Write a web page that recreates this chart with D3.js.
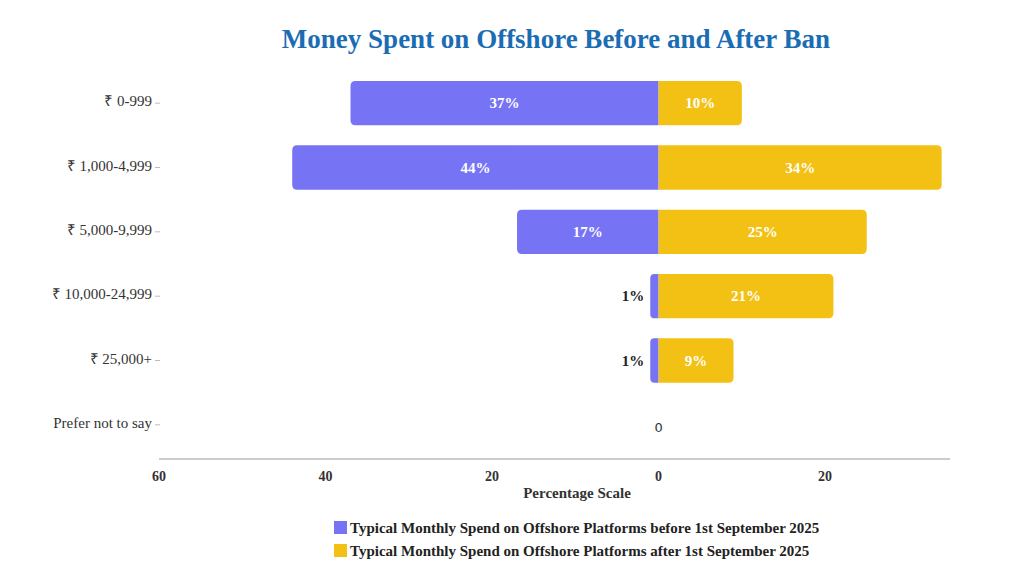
<!DOCTYPE html>
<html><head><meta charset="utf-8">
<script src="https://cdn.jsdelivr.net/npm/d3@7"></script>
<style>body{margin:0;background:#fff}svg{display:block}</style>
</head><body>
<svg width="1024" height="576"></svg>
<script>
const categories = ["₹ 0-999","₹ 1,000-4,999","₹ 5,000-9,999","₹ 10,000-24,999","₹ 25,000+","Prefer not to say"];
const before = [37,44,17,1,1,0];
const after = [10,34,25,21,9,0];
const xTicks = [60,40,20,0,20];
const seriesNames = ["Typical Monthly Spend on Offshore Platforms before 1st September 2025","Typical Monthly Spend on Offshore Platforms after 1st September 2025"];
const colors = ["#7674f4","#f2c114"];
const title = "Money Spent on Offshore Before and After Ban";

const svg = d3.select("svg");
const font = "'Liberation Serif', 'Times New Roman', serif";
const x = d3.scaleLinear().domain([-60,35]).range([159,950]);
const y = d3.scaleBand().domain(categories).range([71,457]).paddingInner(0.31).paddingOuter(0.155);

svg.append("text").attr("x",556).attr("y",48).attr("text-anchor","middle")
  .attr("font-family",font).attr("font-weight","bold").attr("font-size",27).attr("fill","#1b6db3").text(title);

function barPath(x0,x1,yy,h,r){
  const left = x1<x0; const xs = Math.min(x0,x1), xe=Math.max(x0,x1); const w=xe-xs;
  r=Math.min(r,w/2);
  if(!left){
    return `M${xs},${yy}H${xe-r}Q${xe},${yy} ${xe},${yy+r}V${yy+h-r}Q${xe},${yy+h} ${xe-r},${yy+h}H${xs}Z`;
  } else {
    return `M${xe},${yy}H${xs+r}Q${xs},${yy} ${xs},${yy+r}V${yy+h-r}Q${xs},${yy+h} ${xs+r},${yy+h}H${xe}Z`;
  }
}
const h = y.bandwidth();
categories.forEach((c,i)=>{
  const yy=y(c);
  if(before[i]>0) svg.append("path").attr("d",barPath(x(0),x(-before[i]),yy,h,5)).attr("fill",colors[0]);
  if(after[i]>0) svg.append("path").attr("d",barPath(x(0),x(after[i]),yy,h,5)).attr("fill",colors[1]);
  const cy = yy+h/2+5;
  if(before[i]>=5) svg.append("text").attr("x",(x(0)+x(-before[i]))/2).attr("y",cy).attr("text-anchor","middle")
     .attr("font-family",font).attr("font-weight","bold").attr("font-size",15).attr("fill","#fff").text(before[i]+"%");
  else if(before[i]>0) svg.append("text").attr("x",x(-before[i])-6).attr("y",cy).attr("text-anchor","end")
     .attr("font-family",font).attr("font-weight","bold").attr("font-size",15).attr("fill","#222").text(before[i]+"%");
  if(after[i]>0) svg.append("text").attr("x",(x(0)+x(after[i]))/2).attr("y",cy).attr("text-anchor","middle")
     .attr("font-family",font).attr("font-weight","bold").attr("font-size",15).attr("fill","#fff").text(after[i]+"%");
  if(before[i]===0 && after[i]===0) svg.append("text").attr("x",x(0)).attr("y",cy+2).attr("text-anchor","middle")
     .attr("font-family","'DejaVu Sans', sans-serif").attr("font-size",13).attr("fill","#333").text("0");
  svg.append("text").attr("x",152).attr("y",cy-2).attr("text-anchor","end")
     .attr("font-family",font).attr("font-size",15).attr("fill","#333").text(c);
  svg.append("line").attr("x1",155).attr("x2",160).attr("y1",yy+h/2).attr("y2",yy+h/2).attr("stroke","#bbb");
});

svg.append("line").attr("x1",159).attr("x2",950).attr("y1",459).attr("y2",459).attr("stroke","#999");
const tickVals=[-60,-40,-20,0,20];
tickVals.forEach((v,i)=>{
  svg.append("text").attr("x",x(v)).attr("y",481).attr("text-anchor","middle")
    .attr("font-family",font).attr("font-weight","bold").attr("font-size",14).attr("fill","#333").text(xTicks[i]);
});
svg.append("text").attr("x",577).attr("y",498).attr("text-anchor","middle")
  .attr("font-family",font).attr("font-weight","bold").attr("font-size",15).attr("fill","#333").text("Percentage Scale");

seriesNames.forEach((s,i)=>{
  const ly=521+i*23;
  svg.append("rect").attr("x",334).attr("y",ly).attr("width",13).attr("height",13).attr("fill",colors[i]);
  svg.append("text").attr("x",350).attr("y",ly+12).attr("font-family",font).attr("font-weight","bold")
    .attr("font-size",15).attr("fill","#222").text(s);
});
</script>
</body></html>
